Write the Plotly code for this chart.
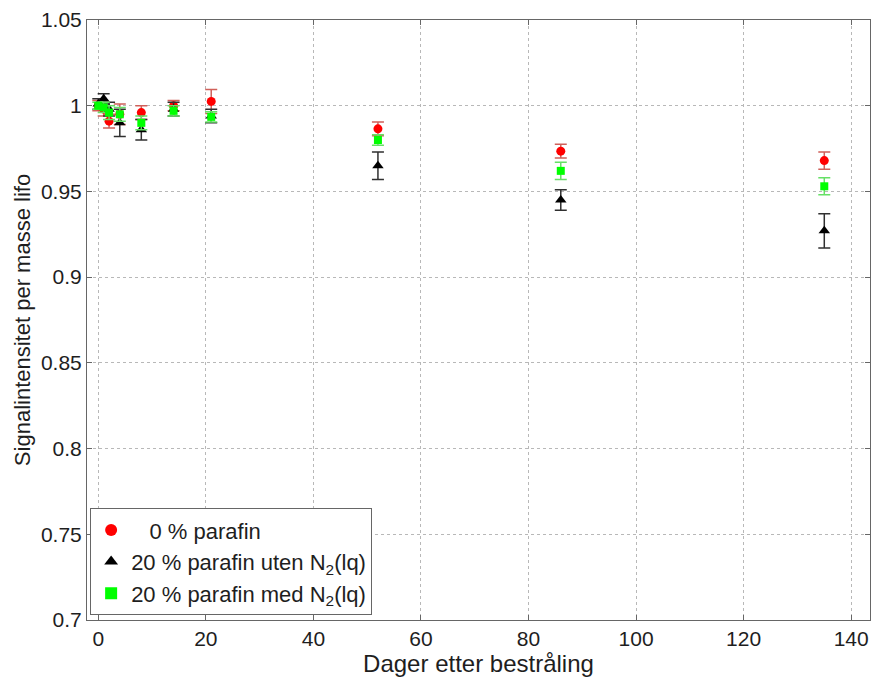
import plotly.graph_objects as go

# Days after irradiation
days = [0, 1, 2, 4, 8, 14, 21, 52, 86, 135]

# 0 % paraffin
red_y = [1.000, 0.998, 0.991, 0.995, 0.996, 1.000, 1.0025, 0.9865, 0.9735, 0.968]
red_err = [0.003, 0.004, 0.004, 0.006, 0.004, 0.003, 0.007, 0.004, 0.004, 0.005]

# 20 % paraffin without N2(lq)
black_y = [1.001, 1.004, 0.998, 0.990, 0.986, 0.998, 0.994, 0.965, 0.945, 0.927]
black_err = [0.003, 0.003, 0.004, 0.008, 0.006, 0.004, 0.004, 0.008, 0.006, 0.010]

# 20 % paraffin with N2(lq)
green_y = [1.000, 0.999, 0.996, 0.995, 0.990, 0.997, 0.9935, 0.980, 0.962, 0.953]
green_err = [0.002, 0.003, 0.004, 0.004, 0.004, 0.003, 0.003, 0.003, 0.005, 0.005]

x_ticks = [0, 20, 40, 60, 80, 100, 120, 140]
y_ticks = [0.7, 0.75, 0.8, 0.85, 0.9, 0.95, 1.0, 1.05]
y_tick_text = ["0.7", "0.75", "0.8", "0.85", "0.9", "0.95", "1", "1.05"]

FONT = "Liberation Sans, Arial, sans-serif"
TEXT_COLOR = "#1e1e1e"

fig = go.Figure()

fig.add_trace(go.Scatter(
    x=days, y=red_y, mode="markers",
    name="   0 % parafin",
    marker=dict(symbol="circle", size=9, color="#ff0000"),
    error_y=dict(type="data", array=red_err, color="#d0605a", thickness=1.5, width=6),
))
fig.add_trace(go.Scatter(
    x=days, y=black_y, mode="markers",
    name="20 % parafin uten N<sub>2</sub>(lq)",
    marker=dict(symbol="triangle-up", size=10, color="#000000"),
    error_y=dict(type="data", array=black_err, color="#303030", thickness=1.5, width=6),
))
fig.add_trace(go.Scatter(
    x=days, y=green_y, mode="markers",
    name="20 % parafin med N<sub>2</sub>(lq)",
    marker=dict(symbol="square", size=8, color="#00ff00"),
    error_y=dict(type="data", array=green_err, color="#66e066", thickness=1.5, width=6),
))

axis_common = dict(
    showline=True, linecolor="#666666", linewidth=1, mirror="ticks",
    ticks="inside", ticklen=5, tickcolor="#666666",
    showgrid=True, gridcolor="#b8b8b8", griddash="dot", gridwidth=1,
    zeroline=False,
    tickfont=dict(family=FONT, size=21, color=TEXT_COLOR),
)

fig.update_xaxes(
    range=[-2.1, 143.5], tickvals=x_ticks,
    title=dict(text="Dager etter bestråling", standoff=2,
               font=dict(family=FONT, size=24, color=TEXT_COLOR)),
    **axis_common,
)
fig.update_yaxes(
    range=[0.7, 1.05], tickvals=y_ticks, ticktext=y_tick_text,
    title=dict(text="Signalintensitet per masse lifo", standoff=4,
               font=dict(family=FONT, size=22, color=TEXT_COLOR)),
    **axis_common,
)

fig.update_layout(
    width=875, height=677,
    margin=dict(l=87, r=5, t=20, b=57),
    paper_bgcolor="white", plot_bgcolor="white",
    showlegend=True,
    legend=dict(
        x=0.004, y=0.008, xanchor="left", yanchor="bottom",
        bgcolor="white", bordercolor="#666666", borderwidth=1,
        font=dict(family=FONT, size=22, color=TEXT_COLOR),
        itemsizing="constant", tracegroupgap=2,
    ),
)

fig.write_html("out.html")
